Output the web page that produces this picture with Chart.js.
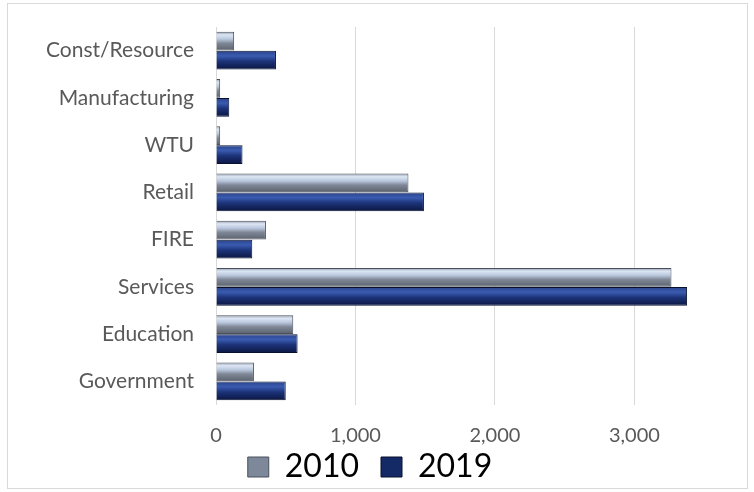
<!DOCTYPE html>
<html>
<head>
<meta charset="utf-8">
<script src="https://cdn.jsdelivr.net/npm/chart.js@4/dist/chart.umd.min.js"></script>
<style>
  html, body { margin: 0; padding: 0; background: #fff; }
  #wrap { width: 754px; height: 492px; position: relative; }
</style>
</head>
<body>
<div id="wrap"><canvas id="chart"></canvas></div>
<script>
const categories = ['Const/Resource', 'Manufacturing', 'WTU', 'Retail', 'FIRE', 'Services', 'Education', 'Government'];
const values2010 = [130, 30, 30, 1380, 358, 3266, 554, 272];
const values2019 = [430, 95, 190, 1491, 260, 3378, 585, 500];
const seriesNames = ['2010', '2019'];
const xTicks = [0, 1000, 2000, 3000];

const catPct = 0.81;

// vertical bevel gradient for each bar, built from the y scale
function bevel(stops, fallback) {
  return (ctx) => {
    const chart = ctx.chart;
    const y = chart.scales.y;
    if (!chart.chartArea || !y || ctx.dataIndex === undefined) return fallback;
    const center = y.getPixelForValue(ctx.dataIndex);
    const band = Math.abs(y.getPixelForValue(1) - y.getPixelForValue(0)) * catPct;
    const top = ctx.datasetIndex === 0 ? center - band / 2 : center;
    const g = chart.ctx.createLinearGradient(0, top, 0, top + band / 2);
    stops.forEach(s => g.addColorStop(s[0], s[1]));
    return g;
  };
}

const grad2010 = [[0, '#8a94a6'], [0.18, '#dce6f4'], [0.4, '#b8c6dc'], [0.62, '#7f8796'], [1, '#5a616d']];
const grad2019 = [[0, '#2a438a'], [0.28, '#3a5bb0'], [0.55, '#1d347a'], [1, '#0a1540']];

const framePlugin = {
  id: 'frame',
  beforeDraw(chart) {
    const c = chart.ctx;
    c.save();
    c.strokeStyle = '#d9d9d9';
    c.lineWidth = 1;
    c.strokeRect(7.5, 3.5, 740, 485);
    c.restore();
  }
};

// legend needs wide item spacing but little height: pull its top up a bit
const legendShift = {
  id: 'legendShift',
  afterLayout(chart) {
    const lg = chart.legend;
    if (!lg) return;
    lg.top -= 17;
  }
};

new Chart(document.getElementById('chart'), {
  type: 'bar',
  data: {
    labels: categories,
    datasets: [{
      label: seriesNames[0],
      data: values2010,
      backgroundColor: bevel(grad2010, '#8a94a6'),
      borderColor: '#4a505a',
      borderWidth: 1,
      barPercentage: 0.98,
      categoryPercentage: catPct
    }, {
      label: seriesNames[1],
      data: values2019,
      backgroundColor: bevel(grad2019, '#1d347a'),
      borderColor: '#08102e',
      borderWidth: 1,
      barPercentage: 0.98,
      categoryPercentage: catPct
    }]
  },
  options: {
    indexAxis: 'y',
    responsive: true,
    maintainAspectRatio: false,
    animation: false,
    layout: { padding: { top: 27, left: 8, right: 22, bottom: 0 } },
    scales: {
      x: {
        min: 0,
        max: 3700,
        afterBuildTicks: (scale) => { scale.ticks = xTicks.map(v => ({ value: v })); },
        afterFit: (scale) => { scale.height = 41; },
        ticks: {
          padding: 25,
          color: '#595959',
          font: { family: 'Lato', size: 20, lineHeight: 0.6 },
          callback: (v) => v.toLocaleString('en-US')
        },
        grid: { color: '#d9d9d9', drawTicks: false },
        border: { display: false }
      },
      y: {
        afterFit: (scale) => {
          scale.width = 208;
          scale.paddingTop = 0;
          scale.paddingBottom = 0;
        },
        ticks: {
          padding: 22,
          color: '#595959',
          font: { family: 'Lato', size: 21 }
        },
        grid: { display: false, drawTicks: false },
        border: { display: false }
      }
    },
    plugins: {
      tooltip: { enabled: false },
      legend: {
        position: 'bottom',
        maxHeight: 46,
        labels: {
          color: '#595959',
          font: { family: 'Lato', size: 32, lineHeight: 1 },
          boxWidth: 21,
          boxHeight: 20,
          padding: 22,
          generateLabels: () => [
            { text: seriesNames[0], fillStyle: '#7d889a', strokeStyle: '#4a505a', lineWidth: 1, datasetIndex: 0 },
            { text: seriesNames[1], fillStyle: '#132a66', strokeStyle: '#08102e', lineWidth: 1, datasetIndex: 1 }
          ]
        }
      }
    }
  },
  plugins: [framePlugin, legendShift]
});
</script>
</body>
</html>
